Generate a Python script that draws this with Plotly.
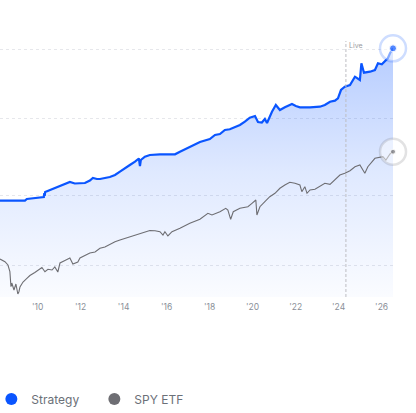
import plotly.graph_objects as go

# Strategy equity curve (decimal year, index value)
strategy_x = [2008.25, 2009.41, 2009.50, 2010.11, 2010.29, 2010.31, 2010.33, 2010.35, 2010.57, 2010.80,
              2011.13, 2011.50, 2011.73, 2012.20, 2012.43, 2012.57, 2012.76, 2012.90, 2013.36, 2013.60,
              2013.83, 2014.06, 2014.29, 2014.53, 2014.71, 2014.76, 2014.80, 2014.99, 2015.22, 2015.69,
              2016.39, 2016.62, 2017.08, 2017.55, 2018.01, 2018.25, 2018.48, 2018.71, 2018.94, 2019.18,
              2019.41, 2019.64, 2019.87, 2020.11, 2020.25, 2020.43, 2020.57, 2020.67, 2020.90, 2021.08,
              2021.18, 2021.27, 2021.50, 2021.83, 2022.01, 2022.20, 2022.67, 2023.13, 2023.36, 2023.60,
              2023.83, 2023.97, 2024.11, 2024.29, 2024.53, 2024.76, 2024.99, 2025.06, 2025.18, 2025.46,
              2025.69, 2025.83, 2026.01, 2026.15, 2026.29, 2026.39, 2026.53]
strategy_y = [96.3, 96.3, 98, 99.5, 100, 104, 101, 105, 107, 109,
              112, 115, 113.5, 114, 116.5, 119, 118, 118, 120, 122,
              125.3, 129, 132, 135.3, 138.5, 131, 137, 140.3, 142, 142.7,
              142.7, 145.3, 150, 155, 158, 162, 163, 167, 167.7, 170,
              172, 175.3, 179.3, 181, 175, 174.5, 178, 174, 185.3, 192,
              188.7, 187, 189.7, 193, 191, 189.7, 189.7, 190.3, 192, 195.3,
              196.3, 198.7, 207, 210.3, 212, 220.3, 217, 233.7, 224.3, 225.3,
              227, 233.7, 232.7, 235.3, 238.7, 243.7, 248.7]

# SPY ETF benchmark (decimal year, index value)
spy_x = [2008.25, 2008.48, 2008.62, 2008.71, 2008.76, 2008.80, 2008.90, 2008.99, 2009.08, 2009.13,
         2009.18, 2009.32, 2009.50, 2009.64, 2009.87, 2010.11, 2010.20, 2010.34, 2010.48, 2010.67,
         2010.80, 2010.94, 2011.04, 2011.27, 2011.50, 2011.64, 2011.87, 2011.97, 2012.20, 2012.43,
         2012.67, 2012.90, 2013.13, 2013.36, 2013.60, 2013.83, 2014.06, 2014.29, 2014.53, 2014.76,
         2014.99, 2015.22, 2015.46, 2015.69, 2015.83, 2015.92, 2016.06, 2016.25, 2016.62, 2017.08,
         2017.55, 2017.92, 2018.11, 2018.48, 2018.75, 2018.85, 2018.98, 2019.10, 2019.41, 2019.78,
         2019.97, 2020.15, 2020.20, 2020.34, 2020.57, 2020.80, 2021.04, 2021.27, 2021.50, 2021.73,
         2021.97, 2022.20, 2022.29, 2022.43, 2022.53, 2022.67, 2022.90, 2023.13, 2023.36, 2023.60,
         2023.83, 2024.06, 2024.29, 2024.53, 2024.76, 2024.99, 2025.22, 2025.36, 2025.69, 2026.06,
         2026.20, 2026.39, 2026.53]
spy_y = [38, 35.3, 32, 25.3, 10.3, 14, 7, 13, 3, 5.3,
         10, 15, 18.7, 21.5, 24.5, 28, 29.5, 25.3, 27.7, 27,
         30, 25, 34, 36.5, 39, 33, 35, 39, 41.5, 44,
         45, 48.7, 50, 53, 55.3, 57, 58.7, 60.3, 62, 63.7,
         65.3, 66.5, 66.3, 65.3, 62, 65.3, 61, 65.3, 68.7, 73.7,
         77.7, 83.7, 82, 85.3, 88.7, 87, 77.7, 85.3, 88.7, 90.3,
         93.7, 97, 82, 90.3, 95.3, 100.3, 103.7, 108.7, 112, 114.7,
         113.7, 112, 105.3, 110.3, 103.7, 107, 107.7, 110.3, 113.7, 112.7,
         117, 122, 123.7, 126.3, 130.3, 132, 123.7, 130.3, 138.7, 140.3,
         137, 143, 145.3]

tick_years = [2010, 2012, 2014, 2016, 2018, 2020, 2022, 2024, 2026]
tick_labels = ["'10", "'12", "'14", "'16", "'18", "'20", "'22", "'24", "'26"]
grid_values = [32, 102, 179, 248]
live_start = 2024.34

BLUE = "#0a55ff"
GRAY = "#6e6e73"

fig = go.Figure()

fig.add_trace(go.Scatter(
    x=strategy_x, y=strategy_y, mode="lines",
    line=dict(color=BLUE, width=2.2, shape="linear"),
    fill="tozeroy",
    fillgradient=dict(type="vertical", start=0, stop=250,
                      colorscale=[[0, "rgba(10,85,255,0.02)"], [0.5, "rgba(10,85,255,0.13)"],
                                  [1, "rgba(10,85,255,0.30)"]]),
    showlegend=False, hoverinfo="skip"))

fig.add_trace(go.Scatter(
    x=spy_x, y=spy_y, mode="lines",
    line=dict(color=GRAY, width=1.1),
    showlegend=False, hoverinfo="skip"))

# end-point halos and dots
fig.add_trace(go.Scatter(
    x=[strategy_x[-1], spy_x[-1]], y=[strategy_y[-1], spy_y[-1]], mode="markers",
    marker=dict(size=26, color="rgba(255,255,255,0.5)",
                line=dict(color=["rgba(10,85,255,0.2)", "rgba(110,110,115,0.2)"], width=2.5)),
    cliponaxis=False, showlegend=False, hoverinfo="skip"))
fig.add_trace(go.Scatter(
    x=[strategy_x[-1], spy_x[-1]], y=[strategy_y[-1], spy_y[-1]], mode="markers",
    marker=dict(size=[7, 5], color=[BLUE, GRAY]),
    cliponaxis=False, showlegend=False, hoverinfo="skip"))

# legend entries
fig.add_trace(go.Scatter(x=[None], y=[None], mode="markers", name="Strategy",
                         marker=dict(size=9, color=BLUE)))
fig.add_trace(go.Scatter(x=[None], y=[None], mode="markers", name="SPY ETF",
                         marker=dict(size=9, color=GRAY)))

fig.add_shape(type="line", xref="x", yref="paper", x0=live_start, x1=live_start,
              y0=0, y1=0.996, line=dict(color="#bdbdc2", width=1, dash="3px,2px"))
fig.add_annotation(x=live_start, y=0.98, xref="x", yref="paper", text="Live",
                   showarrow=False, xanchor="left", yanchor="middle", xshift=1,
                   font=dict(size=7, color="#9a9aa0", family="Inter"))

fig.update_layout(
    width=416, height=413,
    margin=dict(l=0, r=23, t=40, b=116, autoexpand=False),
    paper_bgcolor="white", plot_bgcolor="white",
    font=dict(family="Inter", color="#6b7078"),
    showlegend=True,
    legend=dict(orientation="h", x=-0.022, xanchor="left", y=-0.397, yanchor="middle",
                font=dict(size=12, color="#6b7078", family="Inter"),
                entrywidth=58, entrywidthmode="pixels",
                itemsizing="constant", bgcolor="rgba(0,0,0,0)"),
    xaxis=dict(range=[2008.25, 2026.53], tickvals=tick_years, ticktext=tick_labels,
               showgrid=False, zeroline=False, showline=False, ticks="",
               ticklabelstandoff=3,
               tickfont=dict(size=8.5, color="#8a8f98", family="Inter")),
    yaxis=dict(range=[0, 257], tickvals=grid_values, showticklabels=False,
               showgrid=True, gridcolor="#e6e7eb", gridwidth=1, griddash="3px,3px",
               zeroline=False, showline=False, ticks=""),
)

fig.write_html("out.html")
